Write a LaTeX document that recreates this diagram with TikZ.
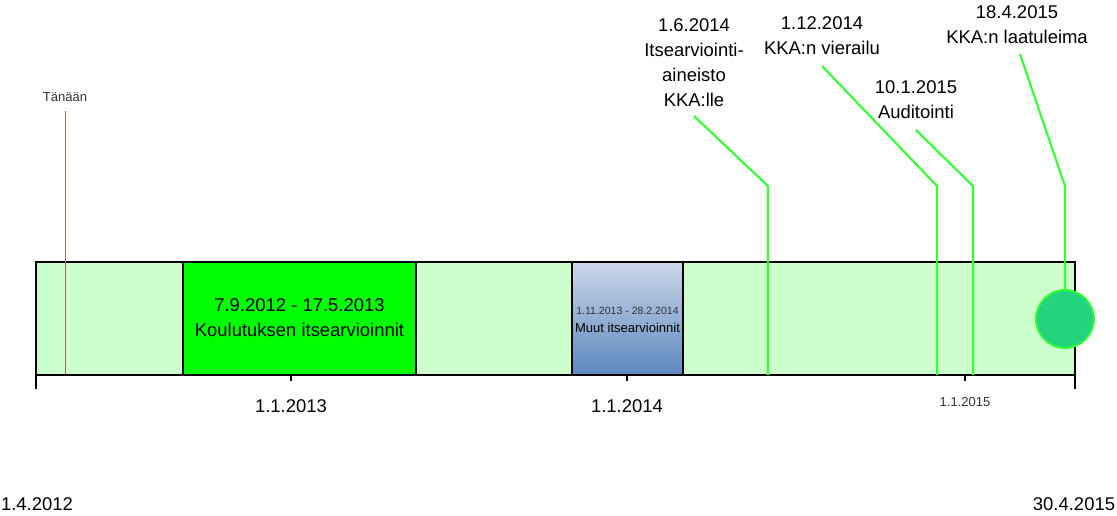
\documentclass[tikz,border=0pt]{standalone}
\usepackage{fontspec}
\setmainfont{Liberation Sans}
\usetikzlibrary{positioning}
\definecolor{barfill}{HTML}{CCFFCC}
\definecolor{koulgreen}{HTML}{00FF00}
\definecolor{msgreen}{HTML}{33FF33}
\definecolor{dotgreen}{HTML}{22D47E}
\definecolor{todayline}{HTML}{B06A5E}
\definecolor{muuttop}{HTML}{CCD7E8}
\definecolor{muutbot}{HTML}{5C88BF}
\definecolor{smalltext}{HTML}{333333}
\begin{document}
\begin{tikzpicture}[x=0.02cm,y=-0.02cm,
    big/.style={font=\fontsize{10.5}{14.2}\selectfont, inner sep=0pt, align=center},
    small/.style={font=\fontsize{7.4}{9}\selectfont, inner sep=0pt, align=center},
    milestone/.style={draw=msgreen, line width=1.2pt},
    boxline/.style={draw=black, line width=0.6pt}]
      \useasboundingbox (0,0) rectangle (1117,516);
      % aikajana
      \coordinate (start) at (36,262);
      \coordinate (end) at (1075,375);
      \filldraw[boxline, fill=barfill] (start) rectangle (end);
      \filldraw[boxline, fill=koulgreen] (183,262) rectangle (416,375);
      \shade[top color=muuttop, bottom color=muutbot] (572,262) rectangle (683,375);
      \draw[boxline] (572,262) rectangle (683,375);
      \node[big] (koul) at (299.5,318) {7.9.2012 - 17.5.2013\\Koulutuksen itsearvioinnit};
      \node[small, font=\fontsize{6}{7}\selectfont, text=smalltext] (muutpvm) at (627.5,311) {1.11.2013 - 28.2.2014};
      \node[small] (muut) at (627.5,328) {Muut itsearvioinnit};
      % tanaan
      \node[small, text=smalltext] (tanaan) at (65,97) {Tänään};
      \coordinate (t1) at (65,111);
      \coordinate (t2) at (65,375);
      \draw[todayline, line width=0.5pt] (t1) -- (t2);
      % akseli
      \draw[boxline] (36,375) -- (1075,375);
      \draw[boxline] (36,375) -- (36,389);
      \draw[boxline] (1075,375) -- (1075,389);
      \foreach \x/\n in {291/a, 627/b, 965/c}
        \draw[boxline] (\x,375) -- (\x,381) coordinate (tick\n);
      \node[big] (v2013) at (291,406) {1.1.2013};
      \node[big] (v2014) at (627,406) {1.1.2014};
      \node[small, text=smalltext] (v2015) at (965,402) {1.1.2015};
      \node[big] (alku) at (37,504) {1.4.2012};
      \node[big] (loppu) at (1074,504) {30.4.2015};
      % virstanpylvaat
      \node[big] (itse) at (694,63) {1.6.2014\\Itsearviointi-\\aineisto\\KKA:lle};
      \node[big] (vier) at (822,36) {1.12.2014\\KKA:n vierailu};
      \node[big] (audi) at (916,100) {10.1.2015\\Auditointi};
      \node[big] (leima) at (1017,25) {18.4.2015\\KKA:n laatuleima};
      \node[circle, draw=msgreen, line width=1.1pt, fill=dotgreen, minimum size=1.16cm] (pallo) at (1065,319) {};
      \coordinate (itse1) at (694,116);
      \coordinate (itse2) at (768,186);
      \coordinate (itse3) at (768,375);
      \coordinate (vier1) at (822,66);
      \coordinate (vier2) at (937,186);
      \coordinate (vier3) at (937,375);
      \coordinate (audi1) at (916,130);
      \coordinate (audi2) at (973,186);
      \coordinate (audi3) at (973,375);
      \coordinate (leima1) at (1020,54);
      \coordinate (leima2) at (1065,186);
      \draw[milestone] (itse1) -- (itse2) -- (itse3);
      \draw[milestone] (vier1) -- (vier2) -- (vier3);
      \draw[milestone] (audi1) -- (audi2) -- (audi3);
      \draw[milestone] (leima1) -- (leima2) -- (pallo.north);
\end{tikzpicture}
\end{document}
